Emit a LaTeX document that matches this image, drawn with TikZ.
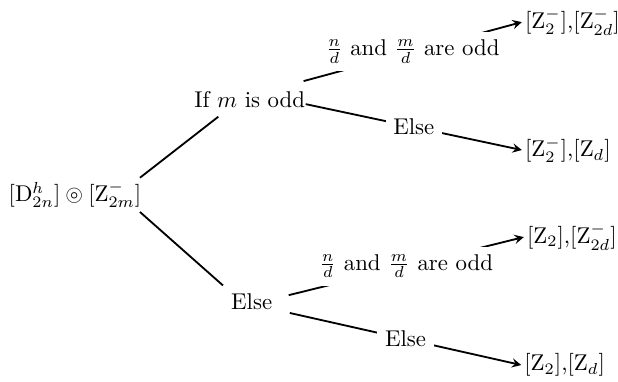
\documentclass[tikz,border=0pt]{standalone}
\usepackage{amsmath,amsfonts,amssymb}
\usepackage{tikz}

\begin{document}
\begin{tikzpicture}[->,>=stealth,thick,align=center]
        \useasboundingbox (-1.155,-2.88) rectangle (8.36,3.0);
        \tikzset{cond/.style={fill=white}, leaf/.style={anchor=west,inner sep=1pt}}

        \node[inner sep=1pt] (root) {$[\mathrm{D}^h_{2n}]\circledcirc[\mathrm{Z}^-_{2m}]$};
        \node (ifodd) [node distance=2.69cm,right of=root,yshift=1.46cm] {If $m$ is odd};
        \node (elsem) [node distance=2.72cm,right of=root,yshift=-1.65cm] {Else};
        \node (zz) [node distance=4.19cm,right of=ifodd,leaf,yshift=1.2cm] {$[\mathrm{Z}^-_2]$,$[\mathrm{Z}^-_{2d}]$};
        \node (zd) [node distance=4.19cm,right of=ifodd,leaf,yshift=-0.77cm] {$[\mathrm{Z}^-_2]$,$[\mathrm{Z}_d]$};
        \node (pz) [node distance=4.19cm,right of=elsem,leaf,yshift=1.0cm] {$[\mathrm{Z}_2]$,$[\mathrm{Z}^-_{2d}]$};
        \node (pd) [node distance=4.15cm,right of=elsem,leaf,yshift=-0.97cm] {$[\mathrm{Z}_2]$,$[\mathrm{Z}_d]$};

        \draw[-] ([xshift=-2pt,yshift=7.5pt]root.east) -- (ifodd.208)
                 ([xshift=-2pt,yshift=-7.5pt]root.east) -- (elsem.150);
        \draw ([xshift=-4.4pt,yshift=8.3pt]ifodd.east) -- node[cond] {$\frac{n}{d}$ and $\frac{m}{d}$ are odd} (zz.west);
        \draw ([xshift=-3.5pt,yshift=-1.8pt]ifodd.east) -- node[cond] {Else} (zd.west);
        \draw ([xshift=3.5pt,yshift=3pt]elsem.east) -- node[cond] {$\frac{n}{d}$ and $\frac{m}{d}$ are odd} (pz.west);
        \draw ([xshift=4pt,yshift=-4.8pt]elsem.east) -- node[cond] {Else} (pd.west);
    \end{tikzpicture}
\end{document}
